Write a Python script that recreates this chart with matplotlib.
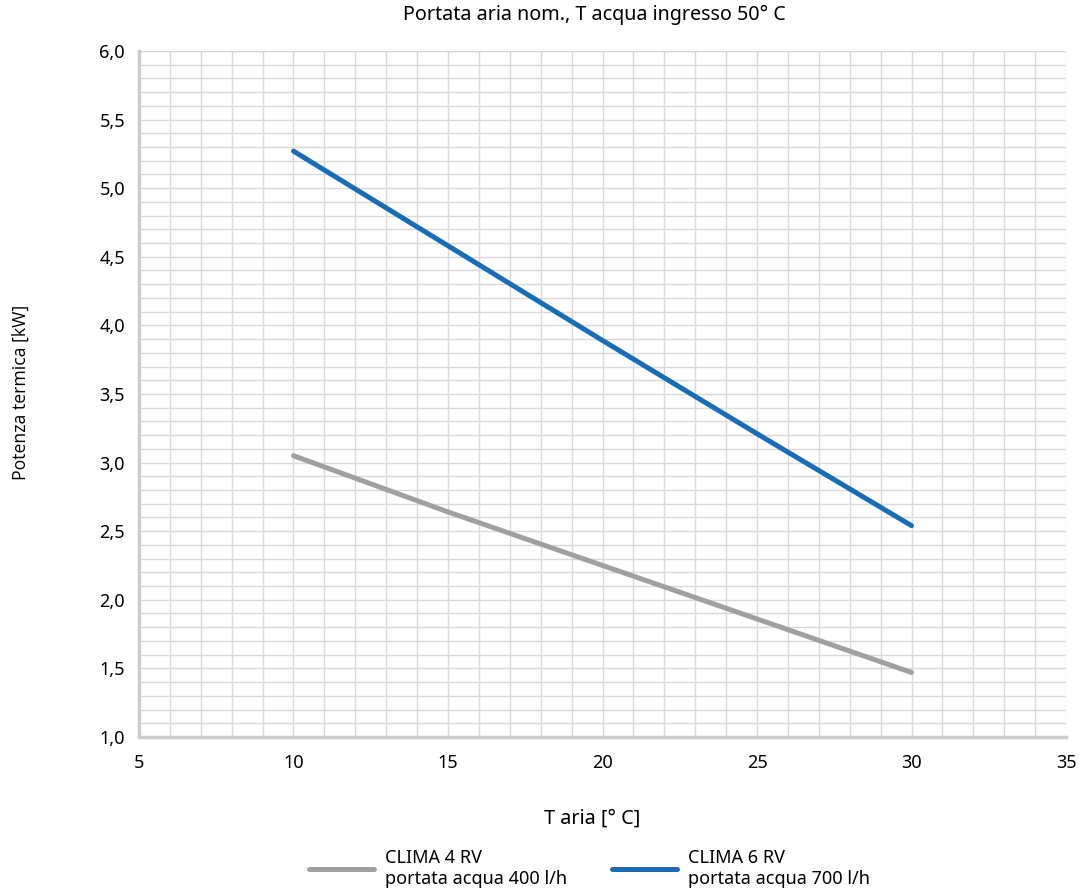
import matplotlib
matplotlib.use("Agg")
import matplotlib.pyplot as plt
import numpy as np

# data
t_aria = [10, 15, 20, 25, 30]
clima4 = [3.05, 2.64, 2.25, 1.86, 1.47]
clima6 = [5.27, 4.58, 3.89, 3.21, 2.54]

x_ticks = [5, 10, 15, 20, 25, 30, 35]
y_ticks = [1.0, 1.5, 2.0, 2.5, 3.0, 3.5, 4.0, 4.5, 5.0, 5.5, 6.0]

matplotlib.rcParams.update({'font.family': 'Noto Sans', 'font.size': 12})

fig = plt.figure(figsize=(10.79, 8.91), dpi=100)
ax = fig.add_axes([0.1288, 0.1729, 0.8592, 0.7699])

ax.plot(t_aria, clima4, color="#a0a0a0", linewidth=3.6, solid_capstyle="round",
        label="CLIMA 4 RV\nportata acqua 400 l/h")
ax.plot(t_aria, clima6, color="#1a6db5", linewidth=3.6, solid_capstyle="round",
        label="CLIMA 6 RV\nportata acqua 700 l/h")

ax.set_xlim(5, 35)
ax.set_ylim(1.0, 6.0)
ax.set_xticks(x_ticks)
ax.set_yticks(y_ticks)
ax.set_yticklabels([f"{v:.1f}".replace(".", ",") for v in y_ticks])
ax.set_xticks(np.arange(5, 36, 1), minor=True)
ax.set_yticks(np.arange(1.0, 6.01, 0.1), minor=True)
ax.grid(which="both", color="#d9d9d9", linewidth=1.0)
ax.set_axisbelow(True)
ax.tick_params(which="both", length=0)
ax.tick_params(axis="x", pad=12, labelsize=13)
ax.tick_params(axis="y", pad=10, labelsize=13)
for lbl in ax.get_xticklabels() + ax.get_yticklabels():
    lbl.set_fontweight("medium")

for s in ["top", "right"]:
    ax.spines[s].set_visible(False)
for s in ["left", "bottom"]:
    ax.spines[s].set_color("#cccccc")
    ax.spines[s].set_linewidth(2.5)

fig.text(0.551, 0.983, "Portata aria nom., T acqua ingresso 50° C", ha="center", va="center", fontsize=14.2)
fig.text(0.019, 0.559, "Potenza termica [kW]", ha="center", va="center", rotation="vertical",
         fontsize=12.7, family="Open Sans")
fig.text(0.549, 0.081, "T aria [° C]", ha="center", va="center", fontsize=14.3)

fig.legend(loc="center", bbox_to_anchor=(0.546, 0.025), ncol=2, frameon=False,
           handlelength=3.6, columnspacing=2.5, handletextpad=0.6, fontsize=13,
           labelspacing=0.2)

plt.savefig("out.png", dpi=100)
